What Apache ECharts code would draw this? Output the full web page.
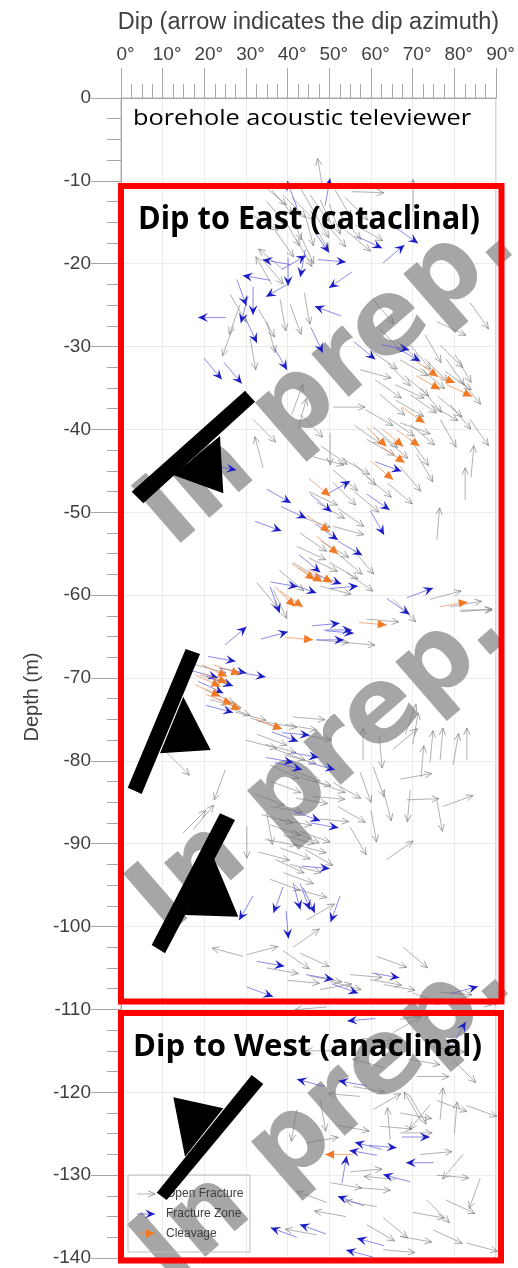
<!DOCTYPE html>
<html>
<head>
<meta charset="utf-8">
<script src="https://cdn.jsdelivr.net/npm/echarts@6.0.0/dist/echarts.min.js"></script>
<style>
  html, body { margin: 0; padding: 0; background: #fff; }
  #main { width: 518px; height: 1268px; }
</style>
</head>
<body>
<div id="main"></div>
<script>
// each entry: [dip (deg), depth (m), dip azimuth (deg from north)]
var openFracture = [
  [48.5,-11.1,350],[33.8,-10.4,130],[36.2,-11.1,140],[38.9,-11.7,135],[43.0,-10.8,150],
  [45.4,-11.7,145],[47.8,-12.3,155],[51.4,-11.1,150],[53.8,-12.0,135],[40.6,-13.5,160],
  [44.2,-14.1,165],[52.6,-14.1,140],[55.4,-11.3,92],[70.1,-13.7,0],[56.2,-15.3,120],
  [34.0,-19.5,140],[42.0,-17.0,150],[46.0,-15.0,150],
  [35.0,-12.5,140],[39.0,-14.5,150],[41.0,-12.0,135],[46.0,-13.5,150],[49.0,-15.0,140],
  [50.0,-12.8,160],[37.0,-16.0,145],[31.0,-14.0,120],[43.0,-16.5,155],[54.0,-16.0,130],
  [38.9,-20.7,310],[36.2,-22.5,330],[38.2,-24.3,170],[40.6,-24.9,160],[26.2,-23.7,150],
  [28.6,-24.9,200],[83.8,-24.7,145],[75.8,-27.0,115],[60.5,-24.3,140],
  [33.0,-25.5,150],[35.0,-27.0,165],[27.0,-27.5,200],[31.0,-29.0,170],[44.0,-23.5,170],
  [62.2,-27.9,135],[65.8,-29.2,130],[69.4,-29.8,140],[73.0,-28.6,150],[76.6,-29.8,135],
  [80.2,-31.0,150],[67.0,-31.6,120],[71.8,-32.6,130],[77.8,-33.0,125],[81.4,-34.0,140],
  [65.8,-34.6,115],[69.4,-35.8,125],[74.2,-37.0,120],[62.2,-35.8,130],[58.6,-37.6,120],
  [64.1,-38.6,125],[69.4,-39.4,130],[76.6,-38.8,150],[83.8,-38.8,145],[57.4,-32.8,105],
  [50.9,-37.3,90],[43.0,-38.2,135],[42.5,-40.0,15],[41.0,-38.2,20],[31.7,-38.8,135],
  [34.1,-44.6,345],
  [60.0,-30.5,125],[64.0,-32.0,135],[68.0,-33.5,130],[72.0,-35.0,140],[76.0,-36.0,130],
  [79.0,-37.0,140],[66.0,-36.5,120],[61.0,-34.0,125],[73.0,-31.5,135],[78.0,-31.5,145],
  [56.0,-39.5,125],[63.0,-41.0,130],[71.0,-43.0,150],[67.0,-44.5,140],[64.0,-46.5,130],
  [50.2,-40.4,180],[46.1,-43.3,105],[50.9,-44.9,130],[59.0,-41.2,120],[60.5,-39.7,130],
  [67.0,-39.2,110],[69.4,-41.2,145],[55.7,-44.0,135],[59.0,-45.7,130],[50.9,-46.4,135],
  [47.0,-48.8,120],[43.0,-50.5,110],[50.9,-51.7,105],[42.2,-54.1,115],[43.0,-52.5,125],
  [50.2,-56.1,120],[55.7,-54.5,140],[54.2,-57.3,125],[41.3,-56.1,120],[32.6,-58.5,140],
  [36.5,-59.3,155],[47.8,-58.9,105],
  [48.0,-42.0,125],[53.0,-43.5,120],[56.0,-47.5,130],[45.0,-47.5,115],[52.0,-49.5,125],
  [48.0,-53.5,120],[45.0,-55.5,115],[52.0,-55.0,130],[38.0,-57.0,130],
  [74.2,-60.5,75],[79.0,-61.4,80],[81.4,-62.0,85],[81.4,-61.8,90],[82.6,-48.5,0],
  [84.0,-45.8,5],[75.8,-53.3,5],[47.0,-65.4,95],[53.3,-65.7,95],[59.0,-62.9,95],
  [65.3,-60.5,135],
  [17.8,-68.4,105],[19.0,-69.6,110],[20.2,-71.4,115],[21.4,-72.6,105],[23.8,-73.2,110],
  [27.4,-74.1,105],[31.0,-74.8,110],[34.6,-75.3,100],[39.4,-75.6,100],[43.0,-76.8,100],
  [41.3,-74.7,95],
  [32.6,-76.8,110],[34.6,-78.0,105],[37.0,-78.6,110],[39.4,-79.3,105],[35.8,-80.5,115],
  [40.6,-81.1,110],[43.0,-82.0,105],[46.6,-82.5,110],
  [76.6,-79.9,5],[79.7,-80.5,10],[83.0,-79.9,0],[74.2,-80.2,5],[68.2,-76.8,20],
  [65.3,-78.6,50],[58.1,-79.9,0],[57.4,-81.4,160],[60.5,-80.7,160],[62.9,-83.5,165],
  [67.0,-82.2,80],[68.6,-84.7,88],[77.3,-85.5,70],[75.8,-84.7,170],[69.4,-83.5,185],
  [63.8,-91.9,55],[50.9,-82.6,120],[46.1,-84.3,95],
  [30.0,-77.5,105],[36.0,-82.5,110],[42.0,-84.5,100],[32.0,-84.0,110],[36.0,-85.5,100],
  [39.0,-89.0,105],[43.0,-88.5,110],[33.0,-91.0,105],[39.0,-93.5,110],[42.0,-95.5,105],
  [47.0,-87.0,95],[52.0,-85.5,120],[55.0,-88.0,150],[60.0,-86.0,170],[70.0,-78.0,10],
  [72.0,-82.0,5],[62.0,-77.0,175],
  [33.8,-86.5,105],[35.8,-87.7,110],[38.2,-87.1,100],[40.6,-88.3,115],[34.6,-89.5,100],
  [38.2,-90.5,110],[41.8,-90.1,105],[37.0,-91.9,115],[40.6,-92.5,105],[44.2,-90.7,120],
  [35.8,-94.3,110],
  [14.9,-88.7,45],[17.3,-88.3,40],[25.0,-81.1,200],[11.0,-79.0,135],[30.2,-87.9,180],
  [35.0,-86.3,170],
  [29.3,-103.6,285],[30.2,-103.4,75],[38.9,-102.9,125],[43.0,-103.2,115],[41.3,-102.5,55],
  [44.6,-99.2,60],[61.4,-103.6,110],[67.7,-102.5,130],[45.4,-106.0,100],[50.2,-106.6,105],
  [55.0,-105.8,95],[59.8,-106.4,100],[47.8,-107.6,80],[76.6,-107.9,95],[81.4,-108.8,100],
  [35.0,-105.0,100],[40.0,-106.5,95],[63.0,-107.0,100],[70.0,-108.0,110],
  [49.4,-109.7,265],[67.0,-111.2,80],[65.3,-112.8,60],[74.9,-114.5,100],[79.7,-116.1,135],
  [71.0,-118.1,90],[55.7,-119.3,100],[57.4,-120.5,275],[60.5,-122.1,60],[67.0,-122.5,100],
  [69.4,-120.5,150],[71.8,-123.3,330],[74.2,-121.5,220],[75.8,-121.0,110],[83.0,-121.6,110],
  [76.6,-123.3,5],[42.2,-122.1,190],[47.8,-120.9,170],[44.6,-126.1,80],[62.2,-124.1,95],
  [64.6,-125.7,355],[67.0,-124.9,90],[71.8,-127.5,85],[55.0,-129.6,85],[75.8,-130.0,95],
  [82.1,-127.5,220],[86.2,-130.4,200],[73.4,-133.0,135],[61.4,-133.8,280],[49.4,-133.3,290],
  [47.0,-137.2,280],[59.0,-136.0,120],[62.9,-135.1,130],[67.0,-137.4,100],[74.9,-136.6,115],
  [83.0,-138.2,105],[62.9,-139.0,95],[50.2,-130.9,100],
  [52.0,-115.0,270],[58.0,-113.5,95],[63.0,-117.0,285],[69.0,-116.0,100],[52.0,-124.0,100],
  [57.0,-131.5,95],[66.0,-130.5,275],[70.0,-134.5,100],[78.0,-133.0,115],[54.0,-135.0,280],
  [80.0,-125.0,5]
];

var fractureZone = [
  [42.2,-13.2,340],[49.0,-13.0,10],[46.1,-15.9,145],[56.6,-16.7,115],[65.8,-15.6,125],
  [62.9,-19.9,50],[47.3,-19.5,95],[38.6,-20.7,60],[40.6,-20.1,280],[35.8,-22.0,280],
  [40.1,-19.3,180],[44.2,-18.3,190],[55.4,-21.0,235],[40.6,-22.3,240],[27.8,-21.9,160],
  [31.7,-22.8,180],[30.5,-23.9,195],[25.2,-26.5,270],[29.8,-26.5,155],[52.8,-26.3,290],
  [45.6,-27.7,155],[36.5,-29.9,150],[55.9,-29.4,130],[62.6,-29.8,100],[66.0,-30.1,120],
  [19.9,-31.4,140],[24.7,-31.9,140],
  [21.1,-44.3,100],[61.0,-43.9,110],[49.2,-47.9,60],[35.0,-47.2,120],[38.4,-49.3,115],
  [45.4,-47.8,130],[59.0,-47.8,125],[32.2,-51.1,110],[46.6,-51.4,125],[59.8,-49.8,150],
  [52.1,-53.5,120],[42.7,-55.1,130],[46.6,-57.5,110],[35.8,-58.4,100],[40.6,-58.6,110],
  [50.2,-59.2,85],[35.8,-59.0,160],[68.6,-60.3,70],[63.8,-60.4,125],[25.0,-66.0,50],
  [33.6,-65.3,75],[45.8,-63.7,85],[48.7,-64.2,90],[49.2,-64.3,95],[46.8,-65.4,90],
  [20.9,-67.4,100],[23.5,-68.8,100],[28.1,-69.3,100],[16.8,-69.1,105],[20.6,-69.8,110],
  [18.5,-70.4,115],[20.4,-73.3,105],
  [38.6,-76.6,95],[36.2,-76.5,110],[34.8,-79.6,100],[37.0,-80.2,105],[40.8,-79.0,100],
  [44.9,-80.2,105],[41.5,-86.1,110],[45.6,-87.5,100],[43.4,-92.7,95],[38.9,-95.2,200],
  [41.3,-94.7,165],[43.0,-94.8,160],[43.7,-95.3,155],[39.6,-98.1,175],[31.7,-96.3,210],
  [52.6,-96.3,200],[32.6,-104.2,100],[44.4,-105.8,100],[50.6,-106.9,110],[60.2,-105.6,100],
  [79.2,-108.1,75],[30.2,-107.3,110],
  [61.0,-111.1,265],[79.4,-114.4,30],[48.7,-119.3,285],[58.8,-119.2,280],[67.4,-125.4,90],
  [59.5,-126.4,95],[62.6,-126.9,285],[61.4,-127.6,280],[53.0,-131.0,10],[75.1,-128.5,270],
  [69.4,-130.8,285],[58.3,-133.7,290],[42.2,-137.5,290],[49.2,-137.1,290],[60.5,-139.9,285],
  [63.1,-138.5,285]
];

var cleavage = [
  [70.6,-31.7,125],[73.9,-33.2,110],[70.8,-33.5,120],[78.2,-34.6,115],[67.4,-37.3,125],
  [62.6,-39.9,130],[66.2,-40.1,125],[59.0,-39.7,135],[62.6,-42.1,125],[60.2,-43.9,130],
  [45.1,-45.9,130],[44.6,-50.4,125],[47.0,-52.9,130],[41.0,-56.2,125],[42.5,-56.7,120],
  [44.9,-56.8,120],[37.0,-59.0,135],[38.2,-59.5,125],[57.1,-63.3,95],[39.4,-65.1,95],
  [76.6,-61.4,80],[19.4,-68.4,115],[22.3,-68.4,110],[17.8,-69.6,115],[19.2,-69.4,110],
  [17.8,-70.8,115],[20.4,-72.0,110],[22.6,-72.4,115],[32.4,-75.0,110],[55.7,-127.5,270]
];

var dipTicks = [0, 10, 20, 30, 40, 50, 60, 70, 80, 90];

var kinds = {
  open:     { line: 'rgba(115,115,115,0.7)', lw: 0.8, head: 'open',  headColor: 'rgba(115,115,115,0.8)', len: 32 },
  zone:     { line: 'rgba(80,80,220,0.75)',  lw: 0.9, head: 'notch', headColor: '#1c1cc4', len: 28 },
  cleavage: { line: 'rgba(240,140,80,0.8)',  lw: 0.9, head: 'tri',   headColor: '#f07a26', len: 28 }
};

// line + head from (x0,y0) in direction (ux,uy)
function arrowShapes(x0, y0, ux, uy, len, k, z) {
  var px = -uy, py = ux;
  var tx = x0 + ux * len, ty = y0 + uy * len;
  var kids = [{
    type: 'line',
    shape: { x1: x0, y1: y0, x2: tx, y2: ty },
    style: { stroke: k.line, lineWidth: k.lw }
  }];
  if (k.head === 'open') {
    kids.push({
      type: 'polyline',
      shape: { points: [[tx - ux * 7 + px * 3.2, ty - uy * 7 + py * 3.2], [tx, ty], [tx - ux * 7 - px * 3.2, ty - uy * 7 - py * 3.2]] },
      style: { stroke: k.headColor, lineWidth: k.lw, fill: null }
    });
  } else if (k.head === 'notch') {
    kids.push({
      type: 'polygon',
      shape: { points: [[tx, ty], [tx - ux * 10 + px * 4.5, ty - uy * 10 + py * 4.5], [tx - ux * 6, ty - uy * 6], [tx - ux * 10 - px * 4.5, ty - uy * 10 - py * 4.5]] },
      style: { fill: k.headColor }
    });
  } else {
    kids.push({
      type: 'polygon',
      shape: { points: [[tx, ty], [tx - ux * 9 + px * 4.2, ty - uy * 9 + py * 4.2], [tx - ux * 9 - px * 4.2, ty - uy * 9 - py * 4.2]] },
      style: { fill: k.headColor }
    });
  }
  if (z != null) kids.forEach(function (c) { c.z = z; });
  return kids;
}

function arrowRenderer(k) {
  return function (params, api) {
    var p = api.coord([api.value(0), api.value(1)]);
    var a = api.value(2) * Math.PI / 180;
    return { type: 'group', children: arrowShapes(p[0], p[1], Math.sin(a), -Math.cos(a), k.len, k) };
  };
}

function arrowSeries(name, data, k) {
  return {
    name: name,
    type: 'custom',
    data: data,
    encode: { x: 0, y: 1 },
    clip: false,
    z: 3,
    renderItem: arrowRenderer(k)
  };
}

// horizontal squeeze so the Calibri-like labels keep the reference width
var measureCtx = document.createElement('canvas').getContext('2d');
function fitScale(txt, weight, size, family, width) {
  measureCtx.font = weight + ' ' + size + 'px ' + family;
  return width / measureCtx.measureText(txt).width;
}

function fittedText(txt, x, y, weight, size, width) {
  return {
    type: 'text', x: x, y: y, z: 12,
    scaleX: fitScale(txt, weight, size, '"Open Sans"', width),
    style: { text: txt, fontFamily: 'Open Sans', fontWeight: weight, fontSize: size, fill: '#000', align: 'left', verticalAlign: 'middle' }
  };
}

function watermark(x, y) {
  return {
    type: 'text', x: x, y: y, z: 1, rotation: 41 * Math.PI / 180,
    style: { text: 'In prep.', fontFamily: 'DejaVu Sans', fontWeight: 'bold', fontSize: 104, fill: '#a6a6a6', align: 'center', verticalAlign: 'middle' }
  };
}

function dipSymbol(bar, tri) {
  return {
    type: 'group', z: 10,
    children: [
      { type: 'polygon', z: 10, shape: { points: bar }, style: { fill: '#000' } },
      { type: 'polygon', z: 10, shape: { points: tri }, style: { fill: '#000' } }
    ]
  };
}

function legendRow(y, label, k) {
  var kids = arrowShapes(137, y, 1, 0, 18, k, 9);
  kids.push({
    type: 'text', x: 166, y: y, z: 9,
    style: { text: label, fontFamily: 'Liberation Sans', fontSize: 12, fill: '#404040', align: 'left', verticalAlign: 'middle' }
  });
  return { type: 'group', z: 9, children: kids };
}

var chart = echarts.init(document.getElementById('main'));

chart.setOption({
  animation: false,
  backgroundColor: '#fff',
  grid: { left: 121, right: 22, top: 98, bottom: 10, show: true, borderColor: '#b3b3b3', borderWidth: 1 },
  xAxis: {
    type: 'value',
    position: 'top',
    min: dipTicks[0],
    max: dipTicks[dipTicks.length - 1],
    interval: 10,
    name: 'Dip (arrow indicates the dip azimuth)',
    nameLocation: 'middle',
    nameGap: 63,
    nameTextStyle: { fontFamily: 'Liberation Sans', fontSize: 23.5, color: '#404040' },
    axisLine: { lineStyle: { color: '#a6a6a6' } },
    axisTick: { length: 30, lineStyle: { color: '#a6a6a6' } },
    minorTick: { show: true, splitNumber: 4, length: 14, lineStyle: { color: '#a6a6a6' } },
    axisLabel: { formatter: '{value}°', fontFamily: 'Liberation Sans', fontSize: 19, color: '#404040', margin: 34, padding: [0, 0, 0, 9] },
    splitLine: { show: true, lineStyle: { color: '#ebebeb' } }
  },
  yAxis: {
    type: 'value',
    min: -140,
    max: 0,
    interval: 10,
    axisLine: { show: true, lineStyle: { color: '#a6a6a6' } },
    axisTick: { show: true, length: 30, lineStyle: { color: '#a6a6a6' } },
    minorTick: { show: true, splitNumber: 4, length: 14, lineStyle: { color: '#a6a6a6' } },
    axisLabel: { fontFamily: 'Liberation Sans', fontSize: 19, color: '#404040', margin: 30 },
    splitLine: { show: true, lineStyle: { color: '#ebebeb' } }
  },
  series: [
    arrowSeries('Open Fracture', openFracture, kinds.open),
    arrowSeries('Fracture Zone', fractureZone, kinds.zone),
    arrowSeries('Cleavage', cleavage, kinds.cleavage)
  ],
  graphic: [
    watermark(329, 378),
    watermark(321, 766),
    watermark(325, 1117),
    {
      type: 'text', x: 32, y: 697, z: 12, rotation: Math.PI / 2,
      style: { text: 'Depth (m)', fontFamily: 'Liberation Sans', fontSize: 20, fill: '#404040', align: 'center', verticalAlign: 'middle' }
    },
    fittedText('borehole acoustic televiewer', 133, 118.5, 'normal', 22, 338),
    fittedText('Dip to East (cataclinal)', 138, 219.5, 'bold', 32, 342),
    fittedText('Dip to West (anaclinal)', 133, 1047, 'bold', 31, 349),
    dipSymbol([[131.7,491.7],[245,390.7],[255,401.7],[143.3,503.3]], [[173.3,475],[220,436],[223.3,493.3]]),
    dipSymbol([[185.7,649],[200,654],[141.7,794],[127.7,787.7]], [[183.3,696.7],[160,753.3],[210.7,750]]),
    dipSymbol([[220,813.3],[235,820],[165,953.3],[151.7,945]], [[213.3,856.7],[185,915],[238.3,916.7]]),
    dipSymbol([[251.7,1075],[263.3,1084],[166.7,1200],[156.7,1192.7]], [[223.3,1108.3],[185,1156.7],[173.3,1097.3]]),
    {
      type: 'rect', z: 8,
      shape: { x: 128, y: 1175, width: 122, height: 77 },
      style: { fill: null, stroke: '#bdbdbd', lineWidth: 1 }
    },
    legendRow(1194, 'Open Fracture', kinds.open),
    legendRow(1214, 'Fracture Zone', kinds.zone),
    legendRow(1233.5, 'Cleavage', kinds.cleavage),
    {
      type: 'rect', z: 11,
      shape: { x: 121, y: 186, width: 380.5, height: 815.5 },
      style: { fill: null, stroke: '#ff0000', lineWidth: 6 }
    },
    {
      type: 'rect', z: 11,
      shape: { x: 121, y: 1013, width: 380, height: 247.5 },
      style: { fill: null, stroke: '#ff0000', lineWidth: 6 }
    }
  ]
});
</script>
</body>
</html>
